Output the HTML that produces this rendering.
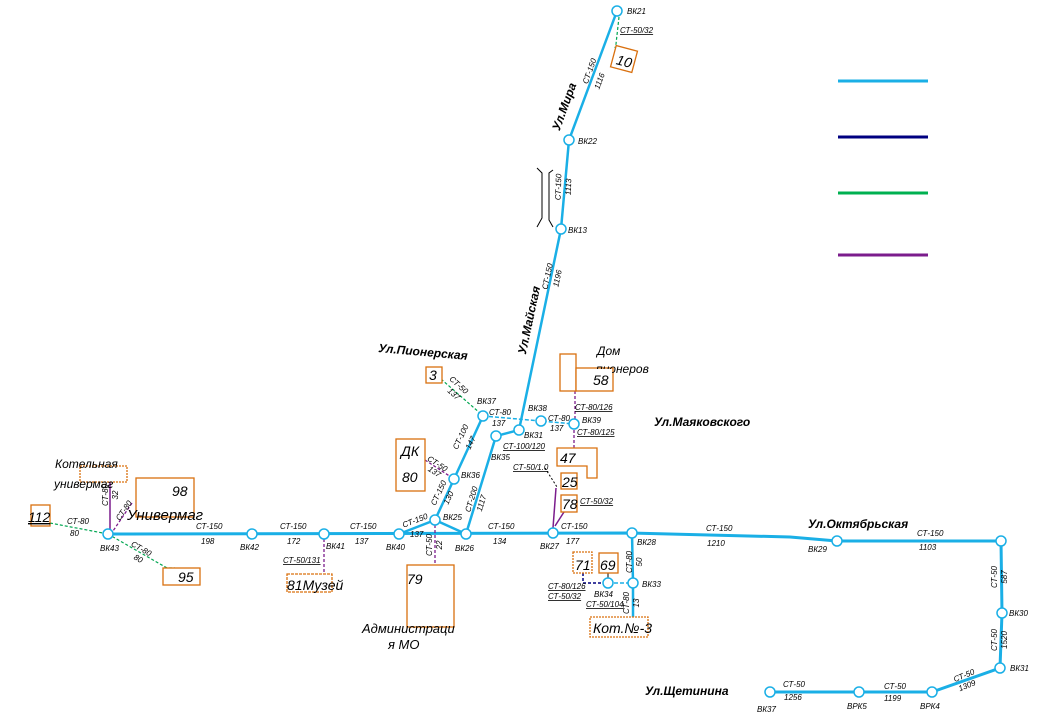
<!DOCTYPE html>
<html><head><meta charset="utf-8"><style>
html,body{margin:0;padding:0;background:#fff;}
svg{display:block;}
text{font-family:"Liberation Sans",sans-serif;font-style:italic;fill:#000;}
.s{font-size:8px;}
.st{font-size:12px;font-weight:bold;}
.b{font-size:14px;}
</style></head><body>
<svg width="1045" height="719" viewBox="0 0 1045 719" xmlns="http://www.w3.org/2000/svg">
<rect width="1045" height="719" fill="#fff"/>

<!-- legend -->
<g stroke-width="3">
<line x1="838" y1="81" x2="928" y2="81" stroke="#1AAFE6"/>
<line x1="838" y1="137" x2="928" y2="137" stroke="#000080"/>
<line x1="838" y1="193" x2="928" y2="193" stroke="#00B050"/>
<line x1="838" y1="255" x2="928" y2="255" stroke="#7B1C8C"/>
</g>

<!-- main blue lines -->
<g stroke="#1AAFE6" fill="none" stroke-width="2.5">
<polyline points="617,11 569,140 561,229 519,430 496,436 466,534"/>
<polyline points="483,416 454,479 435,520 399,534"/>
<line x1="435" y1="520" x2="466" y2="534"/>
<polyline points="108,534 632,533 790,537 837,541 1001,541 1002,613 1000,668 932,692 770,692" stroke-width="3"/>
<polyline points="632,533 633,583 633,617"/>
</g>
<g stroke="#1AAFE6" fill="none" stroke-width="1.5" stroke-dasharray="4,2">
<polyline points="483,416 541,421 574,424"/>
<line x1="608" y1="583" x2="633" y2="583"/>
</g>

<!-- green lines -->
<g stroke="#00A651" fill="none" stroke-width="1.2" stroke-dasharray="3,2">
<line x1="441" y1="379" x2="481" y2="414"/>
<line x1="50" y1="523" x2="108" y2="534"/>
<polyline points="108,534 167,568 175,568"/>
<polyline points="619,17 616,44 615,48"/>
</g>

<!-- purple lines -->
<g stroke="#7B1C8C" fill="none" stroke-width="1.5">
<line x1="110" y1="482" x2="110" y2="530"/>
<line x1="556" y1="488" x2="553" y2="528"/>
<line x1="564" y1="512" x2="555" y2="526"/>
</g>
<g stroke="#7B1C8C" fill="none" stroke-width="1.3" stroke-dasharray="3,2">
<line x1="132" y1="503" x2="113" y2="531"/>
<line x1="425" y1="460" x2="451" y2="477"/>
<line x1="435" y1="525" x2="435" y2="565"/>
<line x1="324" y1="539" x2="324" y2="573"/>
<line x1="575" y1="391" x2="575" y2="419"/>
<line x1="574" y1="430" x2="574" y2="448"/>
</g>
<!-- navy -->
<polyline points="583,573 583,583 603,583" stroke="#000080" stroke-width="1.5" stroke-dasharray="3,2" fill="none"/>
<line x1="608" y1="573" x2="608" y2="578" stroke="#000" stroke-width="1"/>
<polyline points="545,468 557,487" stroke="#000" stroke-width="1" stroke-dasharray="2,2" fill="none"/>

<!-- brackets -->
<g stroke="#000" fill="none" stroke-width="1">
<polyline points="537,168 542,173 542,218 537,227"/>
<polyline points="553,170 549,173 549,220 553,227"/>
</g>

<!-- orange boxes -->
<g stroke="#D9700F" fill="#fff" stroke-width="1.3">
<rect x="613" y="48" width="22" height="22" transform="rotate(15 624 59)"/>
<rect x="426" y="367" width="16" height="16"/>
<rect x="560" y="354" width="16" height="37"/>
<rect x="576" y="368" width="37" height="23"/>
<polygon points="557,448 597,448 597,478 587,478 587,466 557,466"/>
<rect x="561" y="473" width="16" height="16"/>
<rect x="561" y="495" width="16" height="17"/>
<rect x="396" y="439" width="29" height="52"/>
<rect x="407" y="565" width="47" height="62" fill="none"/>
<rect x="287" y="574" width="45" height="18" stroke-dasharray="3,1"/>
<rect x="80" y="466" width="47" height="16" stroke-dasharray="2,1" fill="none"/>
<rect x="136" y="478" width="58" height="39" fill="none"/>
<rect x="31" y="505" width="19" height="21"/>
<rect x="163" y="568" width="37" height="17"/>
<rect x="573" y="552" width="19" height="21" stroke-dasharray="2,1"/>
<rect x="599" y="553" width="19" height="20"/>
<rect x="590" y="617" width="58" height="20" stroke-dasharray="2,1"/>
</g>

<!-- nodes -->
<g fill="#fff" stroke="#1AAFE6" stroke-width="1.5">
<circle cx="617" cy="11" r="5"/><circle cx="569" cy="140" r="5"/><circle cx="561" cy="229" r="5"/>
<circle cx="483" cy="416" r="5"/><circle cx="541" cy="421" r="5"/><circle cx="574" cy="424" r="5"/>
<circle cx="519" cy="430" r="5"/><circle cx="496" cy="436" r="5"/><circle cx="454" cy="479" r="5"/>
<circle cx="435" cy="520" r="5"/><circle cx="399" cy="534" r="5"/><circle cx="466" cy="534" r="5"/>
<circle cx="108" cy="534" r="5"/><circle cx="252" cy="534" r="5"/><circle cx="324" cy="534" r="5"/>
<circle cx="553" cy="533" r="5"/><circle cx="632" cy="533" r="5"/><circle cx="837" cy="541" r="5"/>
<circle cx="1001" cy="541" r="5"/><circle cx="1002" cy="613" r="5"/><circle cx="1000" cy="668" r="5"/>
<circle cx="932" cy="692" r="5"/><circle cx="859" cy="692" r="5"/><circle cx="770" cy="692" r="5"/>
<circle cx="633" cy="583" r="5"/><circle cx="608" cy="583" r="5"/>
</g>

<!-- street names -->
<text class="st" transform="translate(568,108) rotate(-70)" text-anchor="middle">Ул.Мира</text>
<text class="st" transform="translate(533,321) rotate(-78)" text-anchor="middle">Ул.Майская</text>
<text class="st" transform="translate(378,352) rotate(5)">Ул.Пионерская</text>
<text class="st" x="654" y="426" font-size="11">Ул.Маяковского</text>
<text class="st" x="808" y="528">Ул.Октябрьская</text>
<text class="st" x="645" y="695">Ул.Щетинина</text>

<!-- big labels -->
<text class="b" x="617" y="66" transform="rotate(15 624 59)">10</text>
<text class="b" x="429" y="380" font-size="13">3</text>
<text x="597" y="355" font-size="12">Дом</text>
<text x="596" y="373" font-size="12">пионеров</text>
<rect x="577" y="369" width="35" height="21" fill="#fff"/>
<text class="b" x="593" y="385">58</text>
<text class="b" x="560" y="463">47</text>
<text class="b" x="562" y="487">25</text>
<text class="b" x="562" y="509">78</text>
<text class="b" x="401" y="456">ДК</text>
<text class="b" x="402" y="482">80</text>
<text class="b" x="407" y="584" font-size="15" font-style="normal">79</text>
<text x="362" y="633" font-size="13">Администраци</text>
<text x="388" y="649" font-size="13">я МО</text>
<text class="b" x="287" y="590" font-size="13">81Музей</text>
<text x="55" y="468" font-size="12">Котельная</text>
<text x="54" y="488" font-size="12">универмаг</text>
<text class="b" x="172" y="496" font-size="16">98</text>
<text x="127" y="520" font-size="15">Универмаг</text>
<text class="b" x="28" y="522" text-decoration="underline">112</text>
<text class="b" x="178" y="582">95</text>
<text class="b" x="575" y="570">71</text>
<text class="b" x="600" y="570">69</text>
<text class="b" x="593" y="633" font-size="13">Кот.№-3</text>

<!-- small labels -->
<g class="s">
<text x="627" y="14">ВК21</text>
<text x="620" y="33" text-decoration="underline">СТ-50/32</text>
<text transform="translate(592,72) rotate(-70)" text-anchor="middle">СТ-150</text>
<text transform="translate(602,82) rotate(-70)" text-anchor="middle">1116</text>
<text x="578" y="144">ВК22</text>
<text transform="translate(561,187) rotate(-88)" text-anchor="middle">СТ-150</text>
<text transform="translate(571,187) rotate(-88)" text-anchor="middle">1113</text>
<text x="568" y="233">ВК13</text>
<text transform="translate(550,277) rotate(-78)" text-anchor="middle">СТ-150</text>
<text transform="translate(560,279) rotate(-78)" text-anchor="middle">1196</text>
<text transform="translate(457,387) rotate(42)" text-anchor="middle">СТ-50</text>
<text transform="translate(452,396) rotate(42)" text-anchor="middle">137</text>
<text x="477" y="404">ВК37</text>
<text x="489" y="415">СТ-80</text>
<text x="492" y="426">137</text>
<text x="528" y="411">ВК38</text>
<text x="548" y="421">СТ-80</text>
<text x="550" y="431">137</text>
<text x="575" y="410" text-decoration="underline">СТ-80/126</text>
<text x="582" y="423">ВК39</text>
<text x="577" y="435" text-decoration="underline">СТ-80/125</text>
<text x="524" y="438">ВК31</text>
<text x="503" y="449" text-decoration="underline">СТ-100/120</text>
<text x="491" y="460">ВК35</text>
<text x="513" y="470" text-decoration="underline">СТ-50/1.0</text>
<text x="580" y="504" text-decoration="underline">СТ-50/32</text>
<text transform="translate(463,438) rotate(-65)" text-anchor="middle">СТ-100</text>
<text transform="translate(473,444) rotate(-65)" text-anchor="middle">147</text>
<text transform="translate(436,466) rotate(33)" text-anchor="middle">СТ-50</text>
<text transform="translate(433,474) rotate(33)" text-anchor="middle">137</text>
<text x="461" y="478">ВК36</text>
<text transform="translate(441,494) rotate(-65)" text-anchor="middle">СТ-150</text>
<text transform="translate(451,499) rotate(-65)" text-anchor="middle">130</text>
<text transform="translate(474,500) rotate(-73)" text-anchor="middle">СТ-200</text>
<text transform="translate(484,504) rotate(-73)" text-anchor="middle">1117</text>
<text x="443" y="520">ВК25</text>
<text transform="translate(416,523) rotate(-21)" text-anchor="middle">СТ-150</text>
<text x="410" y="537">137</text>
<text transform="translate(432,545) rotate(-90)" text-anchor="middle">СТ-50</text>
<text transform="translate(442,545) rotate(-90)" text-anchor="middle">22</text>
<text x="196" y="529">СТ-150</text>
<text x="201" y="544">198</text>
<text x="240" y="550">ВК42</text>
<text x="280" y="529">СТ-150</text>
<text x="287" y="544">172</text>
<text x="326" y="549">ВК41</text>
<text x="283" y="563" text-decoration="underline">СТ-50/131</text>
<text x="350" y="529">СТ-150</text>
<text x="355" y="544">137</text>
<text x="386" y="550">ВК40</text>
<text x="455" y="551">ВК26</text>
<text x="488" y="529">СТ-150</text>
<text x="493" y="544">134</text>
<text x="540" y="549">ВК27</text>
<text x="561" y="529">СТ-150</text>
<text x="566" y="544">177</text>
<text x="637" y="545">ВК28</text>
<text x="706" y="531">СТ-150</text>
<text x="707" y="546">1210</text>
<text x="808" y="552">ВК29</text>
<text x="917" y="536">СТ-150</text>
<text x="919" y="550">1103</text>
<text transform="translate(997,577) rotate(-90)" text-anchor="middle">СТ-50</text>
<text transform="translate(1007,577) rotate(-90)" text-anchor="middle">587</text>
<text x="1009" y="616">ВК30</text>
<text transform="translate(997,640) rotate(-90)" text-anchor="middle">СТ-50</text>
<text transform="translate(1007,640) rotate(-90)" text-anchor="middle">1520</text>
<text x="1010" y="671">ВК31</text>
<text transform="translate(965,678) rotate(-22)" text-anchor="middle">СТ-50</text>
<text transform="translate(968,688) rotate(-22)" text-anchor="middle">1309</text>
<text x="920" y="709">ВРК4</text>
<text x="847" y="709">ВРК5</text>
<text x="757" y="712">ВК37</text>
<text x="783" y="687">СТ-50</text>
<text x="784" y="700">1256</text>
<text x="884" y="689">СТ-50</text>
<text x="884" y="701">1199</text>
<text transform="translate(632,562) rotate(-90)" text-anchor="middle">СТ-80</text>
<text transform="translate(642,562) rotate(-90)" text-anchor="middle">50</text>
<text transform="translate(629,603) rotate(-90)" text-anchor="middle">СТ-80</text>
<text transform="translate(639,603) rotate(-90)" text-anchor="middle">13</text>
<text x="642" y="587">ВК33</text>
<text x="594" y="597">ВК34</text>
<text x="548" y="589" text-decoration="underline">СТ-80/126</text>
<text x="548" y="599" text-decoration="underline">СТ-50/32</text>
<text x="586" y="607" text-decoration="underline">СТ-50/104</text>
<text x="100" y="551">ВК43</text>
<text x="67" y="524">СТ-80</text>
<text x="70" y="536">80</text>
<text transform="translate(140,551) rotate(30)" text-anchor="middle">СТ-80</text>
<text transform="translate(137,561) rotate(30)" text-anchor="middle">80</text>
<text transform="translate(108,495) rotate(-90)" text-anchor="middle">СТ-80</text>
<text transform="translate(118,495) rotate(-90)" text-anchor="middle">32</text>
<text transform="translate(126,512) rotate(-55)" text-anchor="middle">СТ-80</text>
</g>
</svg>
</body></html>
